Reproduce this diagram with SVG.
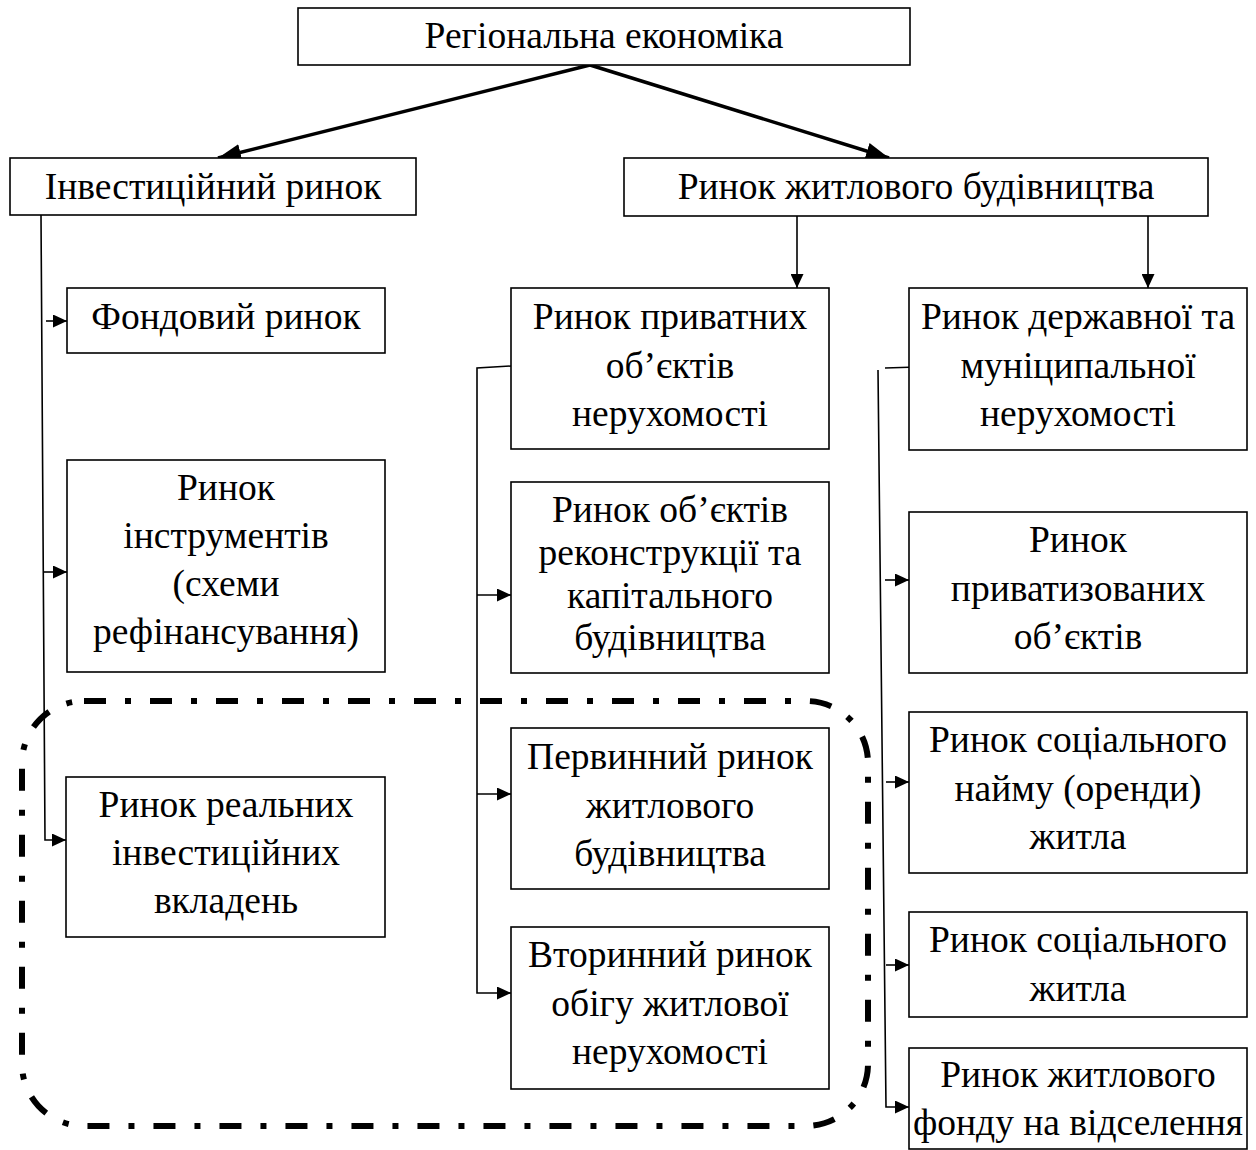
<svg xmlns="http://www.w3.org/2000/svg" width="1256" height="1150" viewBox="0 0 1256 1150">
<defs>
<style>
.box{fill:#fff;stroke:#000;stroke-width:1.6}
.t{font-family:"Liberation Serif","Times New Roman",serif;font-size:37.5px;fill:#000;text-anchor:middle}
.thin{fill:none;stroke:#000;stroke-width:1.6}
.thick{fill:none;stroke:#000;stroke-width:3.5}
.dash{fill:none;stroke:#000;stroke-width:6;stroke-dasharray:22 19 6 19}
</style>
<marker id="ah" viewBox="0 0 14 13" refX="14" refY="6.5" markerWidth="14" markerHeight="13" markerUnits="userSpaceOnUse" orient="auto">
<path d="M0,0 L14,6.5 L0,13 Z" fill="#000"/>
</marker>
<marker id="ahb" viewBox="0 0 23 17" refX="23" refY="8.5" markerWidth="23" markerHeight="17" markerUnits="userSpaceOnUse" orient="auto">
<path d="M0,0 L23,8.5 L0,17 Z" fill="#000"/>
</marker>
</defs>
<rect width="1256" height="1150" fill="#fff"/>

<g id="group-boundary">
<rect class="dash" x="22" y="701" width="846" height="425" rx="62" ry="62"/>
</g>

<g id="connectors">
<line class="thick" x1="590" y1="65" x2="218" y2="158" marker-end="url(#ahb)"/>
<line class="thick" x1="590" y1="65" x2="889" y2="158" marker-end="url(#ahb)"/>
<line class="thin" x1="797" y1="216" x2="797" y2="288" marker-end="url(#ah)"/>
<line class="thin" x1="1148" y1="216" x2="1148" y2="288" marker-end="url(#ah)"/>
<polyline class="thin" points="41,215 45,840 66,840" marker-end="url(#ah)"/>
<line class="thin" x1="46" y1="321" x2="67" y2="321" marker-end="url(#ah)"/>
<line class="thin" x1="44" y1="572" x2="67" y2="572" marker-end="url(#ah)"/>
<polyline class="thin" points="511,366 477,368 477,993 511,993" marker-end="url(#ah)"/>
<line class="thin" x1="477" y1="595" x2="511" y2="595" marker-end="url(#ah)"/>
<line class="thin" x1="477" y1="794" x2="511" y2="794" marker-end="url(#ah)"/>
<line class="thin" x1="885" y1="368" x2="917" y2="367"/>
<polyline class="thin" points="878,370 886,1107 909,1107" marker-end="url(#ah)"/>
<line class="thin" x1="885" y1="580" x2="909" y2="580" marker-end="url(#ah)"/>
<line class="thin" x1="886" y1="782" x2="909" y2="782" marker-end="url(#ah)"/>
<line class="thin" x1="886" y1="965" x2="909" y2="965" marker-end="url(#ah)"/>
</g>

<g id="node-regional">
<rect class="box" x="298" y="8" width="612" height="57"/>
<text class="t" x="604" y="48">Регіональна економіка</text>
</g>
<g id="node-invest">
<rect class="box" x="10" y="158" width="406" height="57"/>
<text class="t" x="213" y="199">Інвестиційний ринок</text>
</g>
<g id="node-housing">
<rect class="box" x="624" y="158" width="584" height="58"/>
<text class="t" x="916" y="199">Ринок житлового будівництва</text>
</g>
<g id="node-stock">
<rect class="box" x="67" y="288" width="318" height="65"/>
<text class="t" x="226" y="329">Фондовий ринок</text>
</g>
<g id="node-instruments">
<rect class="box" x="67" y="460" width="318" height="212"/>
<text class="t" x="226" y="500">Ринок</text>
<text class="t" x="226" y="548">інструментів</text>
<text class="t" x="226" y="596">(схеми</text>
<text class="t" x="226" y="644">рефінансування)</text>
</g>
<g id="node-real">
<rect class="box" x="66" y="777" width="319" height="160"/>
<text class="t" x="226" y="817">Ринок реальних</text>
<text class="t" x="226" y="865">інвестиційних</text>
<text class="t" x="226" y="913">вкладень</text>
</g>
<g id="node-private">
<rect class="box" x="511" y="288" width="318" height="161"/>
<text class="t" x="670" y="329">Ринок приватних</text>
<text class="t" x="670" y="378">об’єктів</text>
<text class="t" x="670" y="426">нерухомості</text>
</g>
<g id="node-reconstruction">
<rect class="box" x="511" y="482" width="318" height="191"/>
<text class="t" x="670" y="522">Ринок об’єктів</text>
<text class="t" x="670" y="565">реконструкції та</text>
<text class="t" x="670" y="608">капітального</text>
<text class="t" x="670" y="650">будівництва</text>
</g>
<g id="node-primary">
<rect class="box" x="511" y="728" width="318" height="161"/>
<text class="t" x="670" y="769">Первинний ринок</text>
<text class="t" x="670" y="818">житлового</text>
<text class="t" x="670" y="866">будівництва</text>
</g>
<g id="node-secondary">
<rect class="box" x="511" y="927" width="318" height="162"/>
<text class="t" x="670" y="967">Вторинний ринок</text>
<text class="t" x="670" y="1016">обігу житлової</text>
<text class="t" x="670" y="1064">нерухомості</text>
</g>
<g id="node-state">
<rect class="box" x="909" y="288" width="338" height="162"/>
<text class="t" x="1078" y="329">Ринок державної та</text>
<text class="t" x="1078" y="378">муніципальної</text>
<text class="t" x="1078" y="426">нерухомості</text>
</g>
<g id="node-privatized">
<rect class="box" x="909" y="512" width="338" height="161"/>
<text class="t" x="1078" y="552">Ринок</text>
<text class="t" x="1078" y="601">приватизованих</text>
<text class="t" x="1078" y="649">об’єктів</text>
</g>
<g id="node-social-rent">
<rect class="box" x="909" y="712" width="338" height="161"/>
<text class="t" x="1078" y="752">Ринок соціального</text>
<text class="t" x="1078" y="801">найму (оренди)</text>
<text class="t" x="1078" y="849">житла</text>
</g>
<g id="node-social">
<rect class="box" x="909" y="912" width="338" height="105"/>
<text class="t" x="1078" y="952">Ринок соціального</text>
<text class="t" x="1078" y="1001">житла</text>
</g>
<g id="node-resettlement">
<rect class="box" x="909" y="1048" width="338" height="101"/>
<text class="t" x="1078" y="1087">Ринок житлового</text>
<text class="t" x="1078" y="1135">фонду на відселення</text>
</g>
</svg>
